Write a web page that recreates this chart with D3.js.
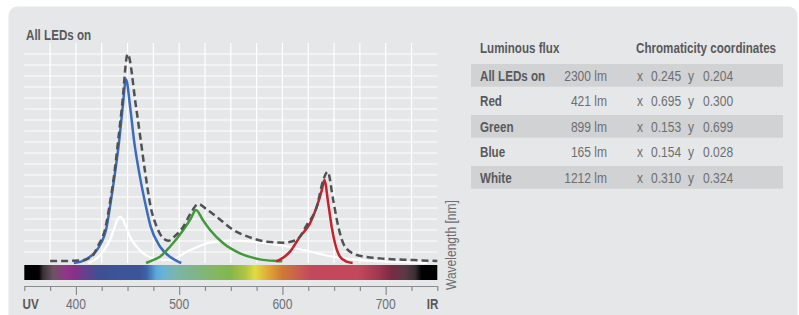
<!DOCTYPE html>
<html>
<head>
<meta charset="utf-8">
<script src="https://cdn.jsdelivr.net/npm/d3@7"></script>
<style>
  html, body { margin: 0; padding: 0; background: #ffffff; }
  svg { display: block; }
  text { font-family: "Liberation Sans", Arial, sans-serif; }
</style>
</head>
<body>
<svg id="chart" width="799" height="315"></svg>
<script>
// ---------------- DATA ----------------
const chartTitle = "All LEDs on";
// spectral curves: [wavelength nm, relative intensity]
const blueSeries = [[398,0],[405,0.12],[413.6,0.57],[422.6,1.5],[429.8,3.3],[433,5.1],[437.8,8.15],[442,11.2],[445.3,14.2],[448.5,16.7],[452.5,14.2],[456.2,11.2],[461.4,8.15],[467.9,5.1],[472.4,3.3],[481.4,1.5],[491,0.57],[497.6,0.2],[502,0]];
const greenSeries = [[468,0],[471.7,0.15],[481.4,0.57],[491.1,1.48],[504,3.0],[511,4.0],[516.3,4.82],[523,3.9],[530,3.0],[542.7,1.79],[558.9,0.88],[578.3,0.33],[594.4,0.18],[600,0.15]];
const redSeries = [[594,0.15],[597.6,0.3],[607.3,1.03],[617,2.4],[626.7,3.6],[633.2,5.1],[638.1,6.6],[640.6,7.55],[644.4,5.4],[647.7,3.3],[650.9,1.79],[655.8,0.57],[662.3,0.12],[668,0]];
const whiteSeries = [[412,0],[420,0.4],[425,0.88],[433,2.1],[442.7,4.2],[454,2.1],[465.3,0.88],[471.7,0.52],[480,0.32],[491,0.27],[510.5,1.18],[529.9,1.85],[549.2,2.03],[568.6,1.97],[588,1.75],[607.4,1.45],[617,1.25],[626.7,1.05],[636.4,0.82],[650,0.55],[675,0.27],[700,0.13],[740,0.03]];
const allSeries = [[375,0.18],[390,0.19],[404,0.22],[415.3,0.57],[421,1.5],[428.8,3.3],[432.3,5.1],[437.2,8.15],[441,11.2],[444.6,14.2],[450.1,19],[458.2,14.2],[462.7,11.2],[467.2,8.15],[472.4,5.1],[478.2,3.3],[484,2.3],[489.5,2.03],[496.5,2.5],[504,3.3],[511,4.5],[518.5,5.36],[527,4.85],[536.3,4.2],[552.4,3.0],[568.6,2.33],[584.8,1.94],[600.9,1.85],[613.8,2.1],[623.5,3.45],[633.2,5.1],[639.6,7.55],[643.8,8.3],[649.2,5.7],[654.1,3.3],[660.6,1.48],[672,0.73],[694.5,0.42],[726.8,0.27],[750,0.18]];

// spectrum bar colour stops [nm, colour]
const spectrumStops = [[350,"#000000"],[364,"#000000"],[368,"#3a3034"],[378,"#6e5262"],[391,"#93348a"],[397.5,"#8a2f88"],[410,"#60418f"],[423,"#404f94"],[443,"#3b5598"],[462,"#3b5598"],[468.5,"#3d63a8"],[478,"#5aaadc"],[484.6,"#6ab3d6"],[497.6,"#7bb6a8"],[513.7,"#7fb48a"],[539.5,"#84b85a"],[549,"#82b74c"],[563.8,"#b0c444"],[573.5,"#e0dc40"],[586.3,"#e0a838"],[599.3,"#d07a34"],[615.4,"#c85e50"],[628,"#c4485c"],[673,"#c4485c"],[692.8,"#a03850"],[705.8,"#7a2a44"],[718.7,"#5a3a44"],[728.4,"#3a3034"],[734.9,"#000000"],[750,"#000000"]];

// axis
const tickValues = [350,375,400,425,450,475,500,525,550,575,600,625,650,675,700,725,750];
const majorTicks = [400,500,600,700];
const axisTitle = "Wavelength [nm]";
const leftLabel = "UV", rightLabel = "IR";

// table
const tableHeaders = ["Luminous flux", "Chromaticity coordinates"];
const rowNames = ["All LEDs on","Red","Green","Blue","White"];
const fluxValues = [2300,421,899,165,1212];
const chromX = ["0.245","0.695","0.153","0.154","0.310"];
const chromY = ["0.204","0.300","0.699","0.028","0.324"];

// ---------------- DRAW ----------------
const svg = d3.select("#chart");
svg.append("rect").attr("x", 8.5).attr("y", 6.5).attr("width", 789).attr("height", 330)
   .attr("rx", 9).attr("fill", "#e6e7e8");

const BOLD = "#58595b", REG = "#6d6e71";
// condensed text helper (no narrow font installed): squeeze horizontally
function ctext(parent, px, py, str, opts = {}) {
  const sx = opts.bold ? 0.83 : 0.86;
  const t = parent.append("text")
    .attr("transform", `translate(${px},${py}) ${opts.rotate ? "rotate(" + opts.rotate + ") " : ""}scale(${sx},1)`)
    .attr("font-size", 14)
    .attr("font-weight", opts.bold ? "bold" : "normal")
    .attr("fill", opts.bold ? BOLD : REG)
    .attr("text-anchor", opts.anchor || "start")
    .text(str);
  return t;
}

const x = d3.scaleLinear().domain([350,750]).range([24.3,437.3]);
const y = d3.scaleLinear().domain([0,20]).range([263,43]);

// title
ctext(svg, 26, 40, chartTitle, {bold: true});

// grid
const grid = svg.append("g");
grid.selectAll("line.h").data(d3.range(1,20)).join("line")
  .attr("x1", x(350)).attr("x2", x(750)).attr("y1", d => y(d)).attr("y2", d => y(d))
  .attr("stroke", "#ffffff").attr("stroke-width", 1.2);
grid.selectAll("line.v").data(d3.range(375,750,25)).join("line")
  .attr("x1", d => x(d)).attr("x2", d => x(d)).attr("y1", y(20)).attr("y2", y(0))
  .attr("stroke", "#ffffff").attr("stroke-width", 1.2);

// spectrum bar
const defs = svg.append("defs");
const grad = defs.append("linearGradient").attr("id", "spec").attr("x1", "0%").attr("x2", "100%");
grad.selectAll("stop").data(spectrumStops).join("stop")
  .attr("offset", d => ((d[0]-350)/400*100) + "%").attr("stop-color", d => d[1]);
svg.append("rect").attr("x", x(350)).attr("y", 265).attr("width", x(750)-x(350)).attr("height", 15)
  .attr("fill", "url(#spec)");

// curves
const line = d3.line().x(d => x(d[0])).y(d => y(d[1])).curve(d3.curveMonotoneX);
const curves = [
  {data: whiteSeries, color: "#ffffff", w: 2.2, dash: null},
  {data: blueSeries, color: "#3b6bc0", w: 2.5, dash: null},
  {data: greenSeries, color: "#3f9b38", w: 2.5, dash: null},
  {data: redSeries, color: "#c8202c", w: 2.5, dash: null},
  {data: allSeries, color: "#505153", w: 2.5, dash: "7,4"}
];
svg.append("g").selectAll("path").data(curves).join("path")
  .attr("d", d => line(d.data)).attr("fill", "none")
  .attr("stroke", d => d.color).attr("stroke-width", d => d.w)
  .attr("stroke-dasharray", d => d.dash).attr("stroke-linejoin", "round");

// axis
const axisG = svg.append("g").attr("transform", "translate(0,286)")
  .call(d3.axisBottom(x).tickValues(tickValues).tickFormat("").tickSizeOuter(0).tickSizeInner(5));
axisG.select(".domain").attr("stroke", "#8a8b8d").attr("stroke-width", 1.2);
axisG.selectAll(".tick line").attr("stroke", "#8a8b8d").attr("stroke-width", 1.2)
  .attr("y2", d => majorTicks.includes(d) ? 9 : 5);

const lbl = svg.append("g");
majorTicks.forEach(d => ctext(lbl, x(d), 309, d, {anchor: "middle"}));
ctext(svg, 22.5, 309, leftLabel, {bold: true});
ctext(svg, 438.5, 309, rightLabel, {bold: true, anchor: "end"});
ctext(svg, 456, 290, axisTitle, {rotate: -90});

// table
const tbl = svg.append("g");
ctext(tbl, 480, 53, tableHeaders[0], {bold: true});
ctext(tbl, 636, 53, tableHeaders[1], {bold: true});
const rowTop = i => 64 + 25.5 * i;
tbl.selectAll("rect.band").data(rowNames.map((d,i)=>i).filter(i => i % 2 === 0)).join("rect")
  .attr("x", 471).attr("y", i => rowTop(i)).attr("width", 312).attr("height", 22.7).attr("fill", "#d1d2d4");
rowNames.forEach((name, i) => {
  const by = rowTop(i) + 16.5;
  ctext(tbl, 480, by, name, {bold: true});
  ctext(tbl, 607, by, fluxValues[i] + " lm", {anchor: "end"});
  ctext(tbl, 637, by, "x");
  ctext(tbl, 651, by, chromX[i]);
  ctext(tbl, 688, by, "y");
  ctext(tbl, 703, by, chromY[i]);
});
</script>
</body>
</html>
